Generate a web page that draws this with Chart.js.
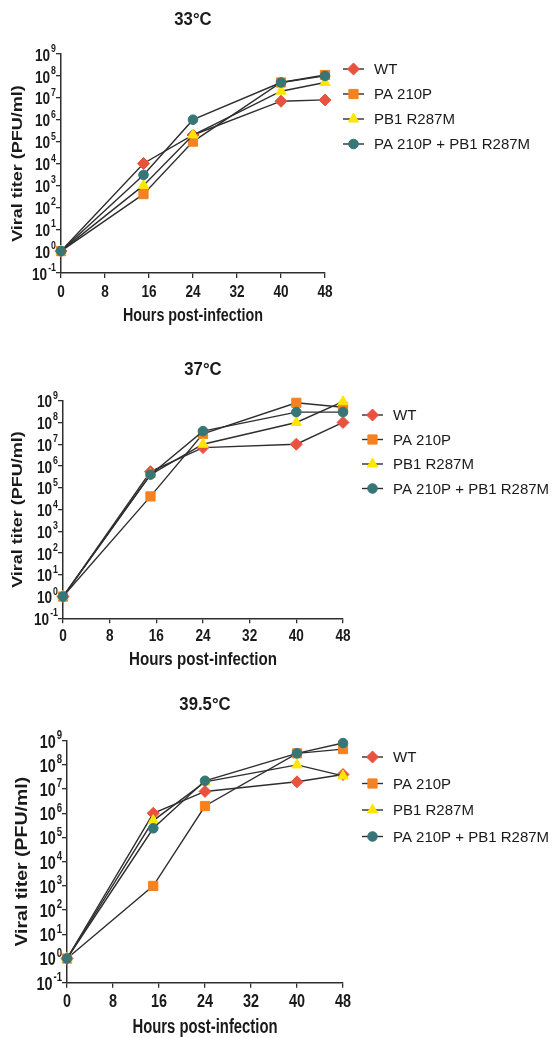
<!DOCTYPE html>
<html>
<head>
<meta charset="utf-8">
<script src="https://cdn.jsdelivr.net/npm/chart.js@4"></script>
<style>
  html, body { margin: 0; padding: 0; background: #fff; }
  body { width: 554px; height: 1038px; position: relative; overflow: hidden; }
  .panel { position: absolute; left: 0; width: 554px; }
</style>
</head>
<body>
<div class="panel" style="top:0px;height:335px"><canvas id="c33" width="554" height="335"></canvas></div>
<div class="panel" style="top:345px;height:335px"><canvas id="c37" width="554" height="335"></canvas></div>
<div class="panel" style="top:685px;height:353px"><canvas id="c39" width="554" height="353"></canvas></div>
<script>
// hours post-infection
const hours = [0, 15, 24, 40, 48];
const seriesNames = ['WT', 'PA 210P', 'PB1 R287M', 'PA 210P + PB1 R287M'];
const xTicks = [0, 8, 16, 24, 32, 40, 48];
const yExponents = [-1, 0, 1, 2, 3, 4, 5, 6, 7, 8, 9];

// 33°C
const wt33 = [1, 1e4, 2e5, 7e6, 8e6];
const pa33 = [1, 4e2, 1e5, 5e7, 1.1e8];
const pb33 = [1, 1e3, 2e5, 2e7, 5e7];
const dbl33 = [1, 3e3, 1e6, 5e7, 1e8];

// 37°C
const wt37 = [1, 5.5e5, 7e6, 1e7, 1e8];
const pa37 = [1, 4e4, 3e7, 8e8, 5e8];
const pb37 = [1, 4e5, 1e7, 1e8, 9e8];
const dbl37 = [1, 4e5, 4e7, 3e8, 3e8];

// 39.5°C
const wt39 = [1, 1e6, 8e6, 2e7, 4e7];
const pa39 = [1, 1e3, 2e6, 3e8, 4.5e8];
const pb39 = [1, 5e5, 2e7, 1e8, 3.5e7];
const dbl39 = [1, 2.4e5, 2.2e7, 3e8, 8e8];

const colors = ['#e8533f', '#f5821f', '#ffe600', '#367676'];
const styles = ['rectRot', 'rect', 'triangle', 'circle'];
const radii = [6, 6.5, 6, 4.8];
const sans = "'Liberation Sans', Arial, Helvetica, sans-serif";
const ink = '#1a1a1a';
const lineCol = '#2e2e2e';

// text squeezed horizontally, like the original figure
function squeezed(ctx, text, x, y, font, align, sx) {
  ctx.save();
  ctx.font = font;
  ctx.textAlign = align;
  ctx.textBaseline = 'middle';
  ctx.translate(x, y);
  ctx.scale(sx, 1);
  ctx.fillText(text, 0, 0);
  ctx.restore();
}

function makePanel(id, title, series, lay) {
  const canvas = document.getElementById(id);
  const H = canvas.height;

  const deco = {
    id: 'deco',
    afterDraw(chart) {
      const ctx = chart.ctx;
      const ca = chart.chartArea;
      const xs = chart.scales.x;
      const ys = chart.scales.y;
      const cx = (ca.left + ca.right) / 2;
      ctx.save();
      ctx.fillStyle = ink;

      // panel title
      squeezed(ctx, title, cx, lay.titleY, 'bold 19px ' + sans, 'center', 0.88);

      // x tick labels
      const tickFont = 'bold ' + lay.tickFs + 'px ' + sans;
      xTicks.forEach(v => {
        squeezed(ctx, String(v), xs.getPixelForValue(v), ca.bottom + lay.xLabDy, tickFont, 'center', 0.8);
      });

      // y tick labels 10^n
      const expFont = 'bold ' + Math.round(lay.tickFs * 0.64) + 'px ' + sans;
      yExponents.forEach(e => {
        const y = ys.getPixelForValue(Math.pow(10, e));
        const expStr = e < 0 ? '-' + Math.abs(e) : String(e);
        ctx.font = expFont;
        const ew = ctx.measureText(expStr).width * 0.8;
        const right = ca.left - 5;
        squeezed(ctx, expStr, right - ew, y - 5, expFont, 'left', 0.8);
        squeezed(ctx, '10', right - ew - 1, y + 2, tickFont, 'right', 0.8);
      });

      // x axis title, squeezed to the original width
      const tf = 'bold ' + lay.titleFs + 'px ' + sans;
      ctx.font = tf;
      const xw = ctx.measureText('Hours post-infection').width;
      squeezed(ctx, 'Hours post-infection', cx, lay.xTitleY, tf, 'center', lay.xTitleW / xw);

      // y axis title, rotated, thin across
      ctx.save();
      ctx.font = tf;
      ctx.textAlign = 'center';
      ctx.textBaseline = 'middle';
      ctx.translate(lay.yTitleX, (ca.top + ca.bottom) / 2);
      ctx.rotate(-Math.PI / 2);
      ctx.scale(1, 0.8);
      ctx.fillText('Viral titer (PFU/ml)', 0, 0);
      ctx.restore();

      // legend
      seriesNames.forEach((name, i) => {
        const y = lay.legY + i * lay.legGap;
        ctx.strokeStyle = lineCol;
        ctx.lineWidth = 1.4;
        ctx.beginPath();
        ctx.moveTo(lay.legX, y);
        ctx.lineTo(lay.legX + 21, y);
        ctx.stroke();
        ctx.fillStyle = colors[i];
        ctx.strokeStyle = colors[i];
        ctx.lineWidth = 1;
        Chart.helpers.drawPoint(ctx, { pointStyle: styles[i], radius: radii[i], rotation: 0, borderWidth: 1 }, lay.legX + 10.5, y);
        ctx.fillStyle = ink;
        squeezed(ctx, name, lay.legX + 31, y + 1, '15px ' + sans, 'left', 1);
      });
      ctx.restore();
    }
  };

  return new Chart(canvas, {
    type: 'line',
    data: {
      datasets: series.map((vals, i) => ({
        label: seriesNames[i],
        data: hours.map((h, k) => ({ x: h, y: vals[k] })),
        borderColor: lineCol,
        borderWidth: 1.4,
        backgroundColor: colors[i],
        pointStyle: styles[i],
        pointRadius: radii[i],
        pointBackgroundColor: colors[i],
        pointBorderColor: colors[i],
        pointBorderWidth: 1,
        tension: 0,
        clip: false,
        order: 3 - i
      }))
    },
    options: {
      responsive: false,
      animation: false,
      events: [],
      layout: { padding: { left: 0, top: lay.top, right: 554 - lay.right, bottom: 0 } },
      plugins: { legend: { display: false }, tooltip: { enabled: false }, title: { display: false } },
      scales: {
        x: {
          type: 'linear', min: 0, max: 48,
          afterBuildTicks: s => { s.ticks = xTicks.map(v => ({ value: v })); },
          ticks: { display: false },
          grid: { drawOnChartArea: false, drawTicks: true, tickLength: 5, color: lineCol, lineWidth: 1.3 },
          border: { color: lineCol, width: 1.5 },
          afterFit: s => { s.height = H - lay.bottom; }
        },
        y: {
          type: 'logarithmic', min: 0.1, max: 1e9,
          afterBuildTicks: s => { s.ticks = yExponents.map(e => ({ value: Math.pow(10, e) })); },
          ticks: { display: false },
          grid: { drawOnChartArea: false, drawTicks: true, tickLength: 5, color: lineCol, lineWidth: 1.3 },
          border: { color: lineCol, width: 1.5 },
          afterFit: s => { s.width = lay.left; }
        }
      }
    },
    plugins: [deco]
  });
}

makePanel('c33', '33°C', [wt33, pa33, pb33, dbl33],
  { left: 61, right: 325, top: 54, bottom: 273, titleY: 20, xLabDy: 19, xTitleY: 316.5, xTitleW: 140,
    yTitleX: 18, titleFs: 18, tickFs: 17, legX: 343, legY: 69, legGap: 25 });
makePanel('c37', '37°C', [wt37, pa37, pb37, dbl37],
  { left: 63, right: 343, top: 400.7 - 345, bottom: 618.3 - 345, titleY: 370 - 345, xLabDy: 18, xTitleY: 660 - 345, xTitleW: 148,
    yTitleX: 18, titleFs: 18, tickFs: 17, legX: 362, legY: 415 - 345, legGap: 24.5 });
makePanel('c39', '39.5°C', [wt39, pa39, pb39, dbl39],
  { left: 67, right: 343, top: 740.7 - 685, bottom: 982.7 - 685, titleY: 705 - 685, xLabDy: 19, xTitleY: 1028 - 685, xTitleW: 145,
    yTitleX: 23, titleFs: 19.5, tickFs: 18, legX: 362, legY: 757 - 685, legGap: 26.5 });
</script>
</body>
</html>
